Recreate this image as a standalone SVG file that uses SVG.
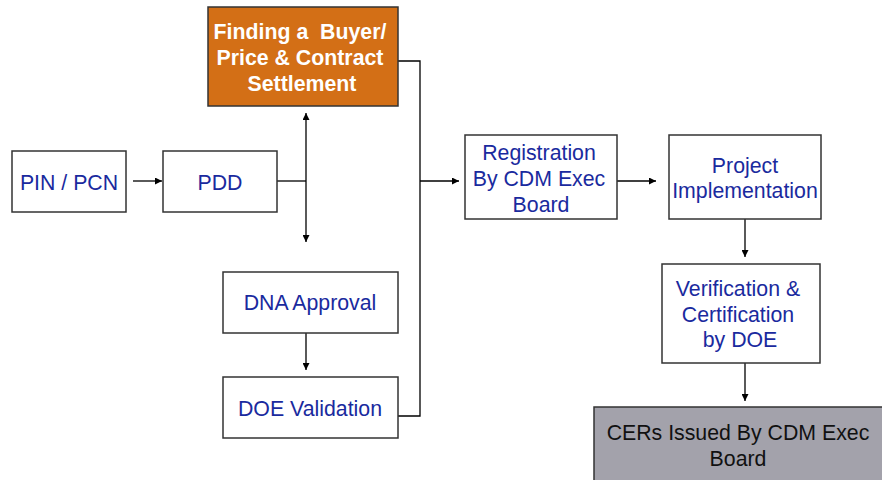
<svg xmlns="http://www.w3.org/2000/svg" width="882" height="480" viewBox="0 0 882 480">
<defs>
<marker id="ah" viewBox="0 0 10 10" refX="10" refY="5" markerWidth="8" markerHeight="7" markerUnits="userSpaceOnUse" orient="auto">
<path d="M0,0 L10,5 L0,10 z" fill="#000"/>
</marker>
</defs>
<style>
.box{fill:#fff;stroke:#333;stroke-width:1.5}
.t{font-family:"Liberation Sans",Arial,sans-serif;font-size:21.3px;fill:#1a2a9e;text-anchor:middle}
.w{font-family:"Liberation Sans",Arial,sans-serif;font-size:21.3px;font-weight:bold;fill:#fff;text-anchor:middle;white-space:pre}
.k{font-family:"Liberation Sans",Arial,sans-serif;font-size:21.3px;fill:#111;text-anchor:middle}
.c{fill:none;stroke:#000;stroke-width:1.3}
.a{marker-end:url(#ah)}
</style>
<rect width="882" height="480" fill="#fff"/>
<g id="connectors">
<line class="c a" x1="133" y1="181" x2="162" y2="181"/>
<line class="c" x1="277" y1="181" x2="306" y2="181"/>
<line class="c a" x1="306" y1="181" x2="306" y2="113"/>
<line class="c a" x1="306" y1="181" x2="306" y2="242"/>
<line class="c a" x1="306" y1="333" x2="306" y2="370"/>
<polyline class="c" points="398,61 420,61 420,416 397,416" stroke="#444"/>
<line class="c a" x1="420" y1="181" x2="459" y2="181"/>
<line class="c a" x1="617" y1="181" x2="656" y2="181"/>
<line class="c a" x1="745" y1="219" x2="745" y2="257"/>
<line class="c a" x1="745" y1="363" x2="745" y2="401"/>
</g>
<g id="buyer">
<rect x="208" y="7" width="190" height="99" fill="#d36f16" stroke="#333" stroke-width="1.5"/>
<text class="w" x="300" y="39" xml:space="preserve">Finding a  Buyer/</text>
<text class="w" x="300" y="65">Price &amp; Contract</text>
<text class="w" x="302" y="91">Settlement</text>
</g>
<g id="pin">
<rect class="box" x="12" y="151" width="114" height="61"/>
<text class="t" x="69" y="190">PIN / PCN</text>
</g>
<g id="pdd">
<rect class="box" x="163" y="151" width="114" height="61"/>
<text class="t" x="220" y="190">PDD</text>
</g>
<g id="dna">
<rect class="box" x="223" y="272" width="175" height="61"/>
<text class="t" x="310" y="310">DNA Approval</text>
</g>
<g id="doe">
<rect class="box" x="223" y="377" width="175" height="61"/>
<text class="t" x="310" y="416">DOE Validation</text>
</g>
<g id="registration">
<rect class="box" x="465" y="135" width="152" height="84"/>
<text class="t" x="539" y="160">Registration</text>
<text class="t" x="539" y="186">By CDM Exec</text>
<text class="t" x="541" y="212">Board</text>
</g>
<g id="implementation">
<rect class="box" x="669" y="135" width="152" height="84"/>
<text class="t" x="745" y="173">Project</text>
<text class="t" x="745" y="198">Implementation</text>
</g>
<g id="verification">
<rect class="box" x="662" y="264" width="158" height="99"/>
<text class="t" x="738" y="296">Verification &amp;</text>
<text class="t" x="738" y="322">Certification</text>
<text class="t" x="740" y="347">by DOE</text>
</g>
<g id="cers">
<rect x="594" y="407" width="292" height="80" fill="#a3a2ab" stroke="#333" stroke-width="1.5"/>
<text class="k" x="738" y="440">CERs Issued By CDM Exec</text>
<text class="k" x="738" y="466">Board</text>
</g>
</svg>
